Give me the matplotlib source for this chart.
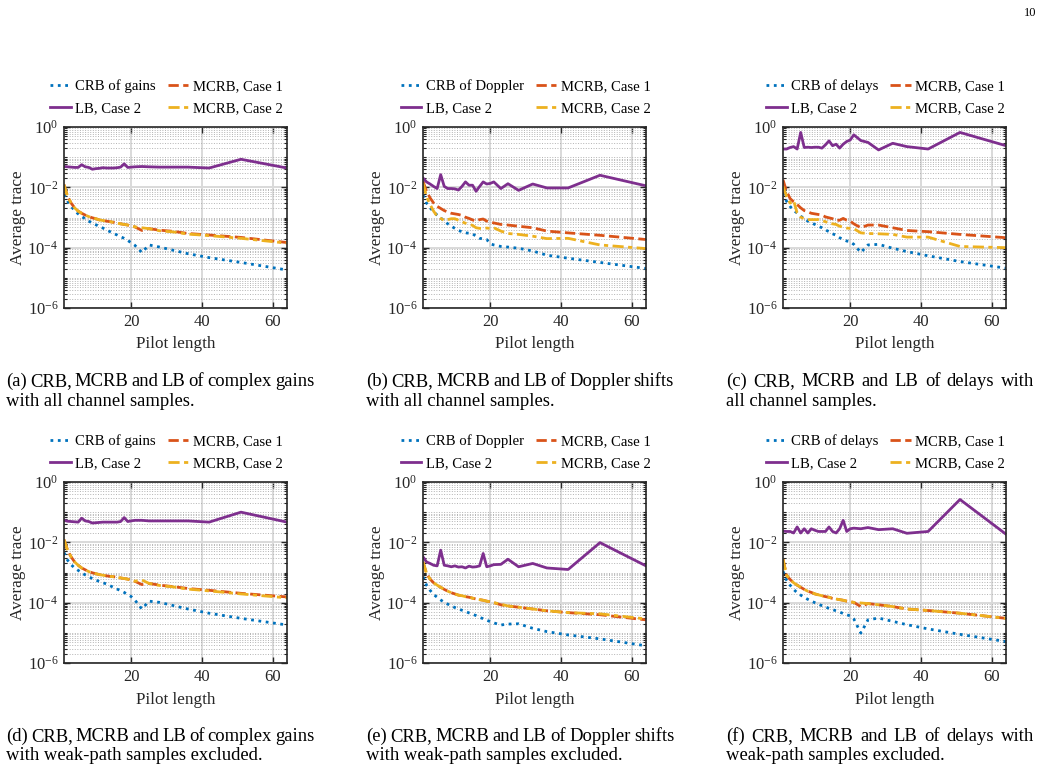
import numpy as np
import matplotlib
matplotlib.use("Agg")
import matplotlib.pyplot as plt
from matplotlib.ticker import FixedLocator, LogLocator, FuncFormatter, NullFormatter

plt.rcParams['font.family'] = ['Liberation Serif', 'DejaVu Serif']
plt.rcParams['mathtext.fontset'] = 'custom'
plt.rcParams['mathtext.rm'] = 'Liberation Serif'
plt.rcParams['mathtext.it'] = 'Liberation Serif:italic'
plt.rcParams['mathtext.bf'] = 'Liberation Serif:bold'

# =============================================================================
# Data (values are log10 of the average trace)
# =============================================================================

pilot = [1, 2, 3, 4, 5, 6, 7, 8, 9, 10, 11, 12, 13, 14, 15, 16, 17, 18, 19, 20,
         21, 23, 25, 28, 32, 36, 42, 51, 64]

# (a) complex gains, all channel samples
crb_a = [-2.24, -2.46, -2.63, -2.77, -2.88, -2.97, -3.04, -3.12, -3.19, -3.24, -3.30, -3.35, -3.41, -3.47, -3.53,
         -3.58, -3.64, -3.69, -3.76, -3.84, -3.92, -4.16, -3.91, -3.98, -4.09, -4.20, -4.33, -4.49, -4.74]
mcrb1_a = [-1.91, -2.30, -2.52, -2.68, -2.79, -2.86, -2.92, -2.97, -3.01, -3.04, -3.08, -3.10, -3.12, -3.14, -3.16,
           -3.19, -3.21, -3.23, -3.25, -3.29, -3.31, -3.43, -3.37, -3.42, -3.46, -3.53, -3.58, -3.66, -3.83]
lb_a = [-1.31, -1.32, -1.33, -1.34, -1.34, -1.25, -1.32, -1.34, -1.40, -1.38, -1.37, -1.35, -1.36, -1.36, -1.36,
        -1.35, -1.33, -1.22, -1.34, -1.33, -1.32, -1.31, -1.32, -1.33, -1.33, -1.33, -1.36, -1.07, -1.36]
mcrb2_a = [-1.91, -2.30, -2.52, -2.68, -2.79, -2.86, -2.92, -2.97, -3.01, -3.04, -3.08, -3.10, -3.12, -3.14, -3.16,
           -3.19, -3.21, -3.23, -3.25, -3.29, -3.31, -3.34, -3.37, -3.44, -3.48, -3.55, -3.60, -3.69, -3.85]

# (b) Doppler shifts, all channel samples
crb_b = [-2.26, -2.52, -2.68, -2.81, -2.92, -3.01, -3.12, -3.21, -3.29, -3.36, -3.43, -3.47, -3.51, -3.52, -3.54,
         -3.62, -3.69, -3.71, -3.73, -3.87, -3.91, -3.96, -3.98, -4.02, -4.11, -4.25, -4.35, -4.49, -4.69]
mcrb1_b = [-1.80, -2.13, -2.35, -2.52, -2.63, -2.70, -2.77, -2.82, -2.86, -2.88, -2.90, -2.93, -2.99, -3.03, -3.08,
           -3.12, -3.07, -3.05, -3.12, -3.15, -3.18, -3.23, -3.25, -3.29, -3.34, -3.45, -3.51, -3.59, -3.73]
lb_b = [-1.69, -1.82, -1.89, -1.97, -2.04, -1.58, -1.97, -2.04, -2.04, -2.05, -2.09, -1.97, -1.82, -1.93, -1.93,
        -2.13, -1.97, -1.82, -1.89, -1.87, -1.82, -2.04, -1.88, -2.10, -1.89, -2.02, -2.02, -1.60, -1.95]
mcrb2_b = [-1.86, -2.30, -2.57, -2.79, -2.96, -3.03, -3.10, -3.07, -3.04, -3.04, -3.09, -3.14, -3.19, -3.23, -3.26,
           -3.34, -3.36, -3.36, -3.35, -3.36, -3.34, -3.45, -3.53, -3.56, -3.62, -3.70, -3.69, -3.91, -4.03]

# (c) delays, all channel samples
crb_c = [-2.19, -2.46, -2.63, -2.77, -2.85, -2.96, -3.03, -3.12, -3.18, -3.23, -3.29, -3.34, -3.41, -3.47, -3.54,
         -3.59, -3.67, -3.73, -3.78, -3.80, -3.89, -4.16, -3.91, -3.89, -4.02, -4.13, -4.27, -4.46, -4.68]
mcrb1_c = [-1.75, -2.13, -2.37, -2.48, -2.57, -2.68, -2.77, -2.81, -2.86, -2.88, -2.90, -2.92, -2.98, -3.01, -3.04,
           -3.10, -3.09, -3.03, -3.09, -3.12, -3.21, -3.34, -3.25, -3.25, -3.34, -3.43, -3.47, -3.56, -3.67]
lb_c = [-0.73, -0.73, -0.68, -0.65, -0.73, -0.18, -0.68, -0.67, -0.68, -0.67, -0.67, -0.70, -0.59, -0.46, -0.62,
        -0.57, -0.70, -0.57, -0.48, -0.43, -0.26, -0.45, -0.51, -0.76, -0.54, -0.65, -0.73, -0.18, -0.62]
mcrb2_c = [-1.97, -2.30, -2.52, -2.44, -2.85, -2.99, -3.04, -3.07, -3.07, -3.07, -3.07, -3.10, -3.14, -3.19, -3.21,
           -3.23, -3.29, -3.32, -3.35, -3.36, -3.37, -3.51, -3.53, -3.54, -3.56, -3.65, -3.65, -3.96, -4.00]

# (d) complex gains, weak-path samples excluded
crb_d = [-2.34, -2.59, -2.74, -2.85, -2.93, -3.01, -3.08, -3.14, -3.20, -3.25, -3.30, -3.34, -3.38, -3.44, -3.49,
         -3.55, -3.60, -3.66, -3.73, -3.80, -3.91, -4.21, -3.95, -3.99, -4.10, -4.21, -4.35, -4.52, -4.74]
mcrb1_d = [-1.91, -2.26, -2.48, -2.65, -2.76, -2.85, -2.91, -2.97, -3.01, -3.04, -3.07, -3.09, -3.11, -3.13, -3.14,
           -3.16, -3.18, -3.20, -3.22, -3.26, -3.29, -3.40, -3.36, -3.42, -3.47, -3.53, -3.59, -3.69, -3.81]
lb_d = [-1.27, -1.30, -1.31, -1.32, -1.33, -1.20, -1.29, -1.31, -1.36, -1.35, -1.34, -1.33, -1.33, -1.33, -1.33,
        -1.33, -1.31, -1.18, -1.31, -1.29, -1.27, -1.27, -1.29, -1.29, -1.29, -1.29, -1.33, -1.00, -1.33]
mcrb2_d = [-1.91, -2.26, -2.48, -2.65, -2.76, -2.85, -2.91, -2.97, -3.01, -3.04, -3.07, -3.09, -3.11, -3.13, -3.14,
           -3.16, -3.18, -3.20, -3.22, -3.26, -3.29, -3.25, -3.36, -3.43, -3.48, -3.55, -3.61, -3.71, -3.84]

# (e) Doppler shifts, weak-path samples excluded
crb_e = [-3.14, -3.42, -3.59, -3.73, -3.82, -3.91, -3.99, -4.05, -4.11, -4.16, -4.21, -4.25, -4.29, -4.34, -4.38,
         -4.43, -4.49, -4.53, -4.58, -4.63, -4.67, -4.74, -4.71, -4.70, -4.85, -4.96, -5.07, -5.20, -5.43]
mcrb1_e = [-2.65, -3.03, -3.22, -3.34, -3.42, -3.49, -3.56, -3.62, -3.67, -3.71, -3.75, -3.77, -3.80, -3.82, -3.85,
           -3.88, -3.90, -3.92, -3.95, -3.97, -4.00, -4.07, -4.11, -4.15, -4.21, -4.27, -4.33, -4.40, -4.57]
lb_e = [-2.48, -2.65, -2.70, -2.76, -2.78, -2.26, -2.76, -2.78, -2.81, -2.78, -2.82, -2.81, -2.85, -2.79, -2.82,
        -2.81, -2.78, -2.37, -2.81, -2.78, -2.74, -2.73, -2.56, -2.81, -2.70, -2.85, -2.90, -2.01, -2.78]
mcrb2_e = [-2.65, -3.03, -3.22, -3.34, -3.42, -3.49, -3.56, -3.62, -3.67, -3.71, -3.75, -3.77, -3.80, -3.82, -3.85,
           -3.88, -3.90, -3.92, -3.95, -3.97, -4.00, -4.05, -4.11, -4.15, -4.21, -4.27, -4.33, -4.37, -4.54]

# (f) delays, weak-path samples excluded
crb_f = [-2.96, -3.25, -3.42, -3.56, -3.67, -3.75, -3.82, -3.89, -3.95, -4.00, -4.05, -4.10, -4.14, -4.19, -4.23,
         -4.27, -4.31, -4.36, -4.40, -4.44, -4.54, -5.01, -4.57, -4.51, -4.62, -4.73, -4.87, -5.05, -5.29]
mcrb1_f = [-2.56, -3.09, -3.23, -3.34, -3.42, -3.49, -3.56, -3.62, -3.66, -3.71, -3.74, -3.77, -3.80, -3.82, -3.86,
           -3.88, -3.90, -3.92, -3.95, -3.97, -3.99, -4.13, -4.03, -4.07, -4.13, -4.21, -4.26, -4.35, -4.52]
lb_f = [-1.63, -1.64, -1.64, -1.69, -1.49, -1.69, -1.55, -1.69, -1.55, -1.60, -1.64, -1.64, -1.64, -1.49, -1.64,
        -1.69, -1.55, -1.27, -1.64, -1.55, -1.53, -1.55, -1.51, -1.58, -1.55, -1.70, -1.64, -0.58, -1.73]
mcrb2_f = [-2.56, -3.09, -3.23, -3.34, -3.42, -3.49, -3.56, -3.62, -3.66, -3.71, -3.74, -3.77, -3.80, -3.82, -3.86,
           -3.88, -3.90, -3.92, -3.95, -3.97, -3.99, -4.01, -4.03, -4.07, -4.13, -4.21, -4.26, -4.35, -4.52]

param_names = ['gains', 'Doppler', 'delays', 'gains', 'Doppler', 'delays']
captions = [
    ('(a) CRB, MCRB and LB of complex gains', 'with all channel samples.'),
    ('(b) CRB, MCRB and LB of Doppler shifts', 'with all channel samples.'),
    ('(c) CRB, MCRB and LB of delays with', 'all channel samples.'),
    ('(d) CRB, MCRB and LB of complex gains', 'with weak-path samples excluded.'),
    ('(e) CRB, MCRB and LB of Doppler shifts', 'with weak-path samples excluded.'),
    ('(f) CRB, MCRB and LB of delays with', 'weak-path samples excluded.'),
]
series = [
    (crb_a, mcrb1_a, lb_a, mcrb2_a),
    (crb_b, mcrb1_b, lb_b, mcrb2_b),
    (crb_c, mcrb1_c, lb_c, mcrb2_c),
    (crb_d, mcrb1_d, lb_d, mcrb2_d),
    (crb_e, mcrb1_e, lb_e, mcrb2_e),
    (crb_f, mcrb1_f, lb_f, mcrb2_f),
]

# =============================================================================
# Figure
# =============================================================================

W, H = 1040, 771
INK = '#262626'
BLUE, ORANGE, YELLOW, PURPLE = '#0072BD', '#D95319', '#EDB120', '#7E2F8E'

fig = plt.figure(figsize=(W / 100, H / 100), dpi=100)

lefts = [64, 423, 783]
tops = [127, 482]
aw, ah = 223, 181


def exp_label(v, _):
    return r'$\mathregular{10^{%d}}$' % int(round(np.log10(v)))


for i, (name, cap, (crb, m1, lb, m2)) in enumerate(zip(param_names, captions, series)):
    r, c = divmod(i, 3)
    ax = fig.add_axes([lefts[c] / W, 1 - (tops[r] + ah) / H, aw / W, ah / H])

    ax.plot(pilot, 10 ** np.array(crb), ':', color=BLUE, lw=2, label=f'CRB of {name}')
    ax.plot(pilot, 10 ** np.array(m1), '--', color=ORANGE, lw=2, label='MCRB, Case 1')
    ax.plot(pilot, 10 ** np.array(lb), '-', color=PURPLE, lw=2, label='LB, Case 2')
    ax.plot(pilot, 10 ** np.array(m2), color=YELLOW, lw=2, ls=(0, (4, 1.6, 1.5, 1.6)),
            label='MCRB, Case 2')

    ax.set_yscale('log')
    ax.set_ylim(1e-6, 1)
    ax.set_xlim(1, 64)
    ax.set_xticks([20, 40, 60])
    ax.yaxis.set_major_locator(FixedLocator([1e-6, 1e-4, 1e-2, 1]))
    ax.yaxis.set_minor_locator(LogLocator(base=10, subs=np.arange(1, 10), numticks=100))
    ax.yaxis.set_minor_formatter(NullFormatter())
    ax.yaxis.set_major_formatter(FuncFormatter(exp_label))

    ax.set_axisbelow(True)
    ax.grid(True, which='major', color='#d9d9d9', lw=1.4, ls='-')
    ax.grid(True, which='minor', axis='y', color='#b3b3b3', lw=0.7, ls=':')

    for sp in ax.spines.values():
        sp.set_color(INK)
        sp.set_linewidth(1.2)
    ax.tick_params(which='both', direction='in', top=True, right=True, colors=INK, labelsize=12)
    ax.tick_params(which='major', length=4, width=1, pad=4)
    ax.tick_params(which='minor', length=2, width=0.8)

    ax.set_xlabel('Pilot length', fontsize=12.3, color=INK, labelpad=5)
    ax.set_ylabel('Average trace', fontsize=12.3, color=INK)
    ax.yaxis.set_label_coords(-0.172, 0.5)

    # legend: MATLAB fills row-wise, matplotlib column-wise
    h, l = ax.get_legend_handles_labels()
    ax.legend([h[0], h[2], h[1], h[3]], [l[0], l[2], l[1], l[3]], ncol=2, loc='lower center',
              bbox_to_anchor=(0.46, 1.0), frameon=False, fontsize=10.6, handlelength=1.4,
              handletextpad=0.3, columnspacing=0.8, labelspacing=0.6, borderaxespad=0.4)

# captions, first line justified
renderer = fig.canvas.get_renderer()
cap_left = [6, 366, 726]
cap_width = 308
cap_base = [386, 741]
cap_size = 13.4
for i, (line1, line2) in enumerate(captions):
    r, c = divmod(i, 3)
    x0 = cap_left[c]
    y1 = 1 - cap_base[r] / H
    y2 = 1 - (cap_base[r] + 19.5) / H
    words = line1.split()
    texts = [fig.text(0, y1, w, fontsize=cap_size, va='baseline', color='black') for w in words]
    widths = [t.get_window_extent(renderer).width for t in texts]
    gap = max((cap_width - sum(widths)) / (len(words) - 1), 3.0)
    x = x0
    for t, w in zip(texts, widths):
        t.set_x(x / W)
        x += w + gap
    fig.text(x0 / W, y2, line2, fontsize=cap_size, va='baseline', color='black')

fig.text(1036 / W, 1 - 13 / H, '10', fontsize=9, ha='right', va='center')

fig.savefig('out.png', dpi=100)
